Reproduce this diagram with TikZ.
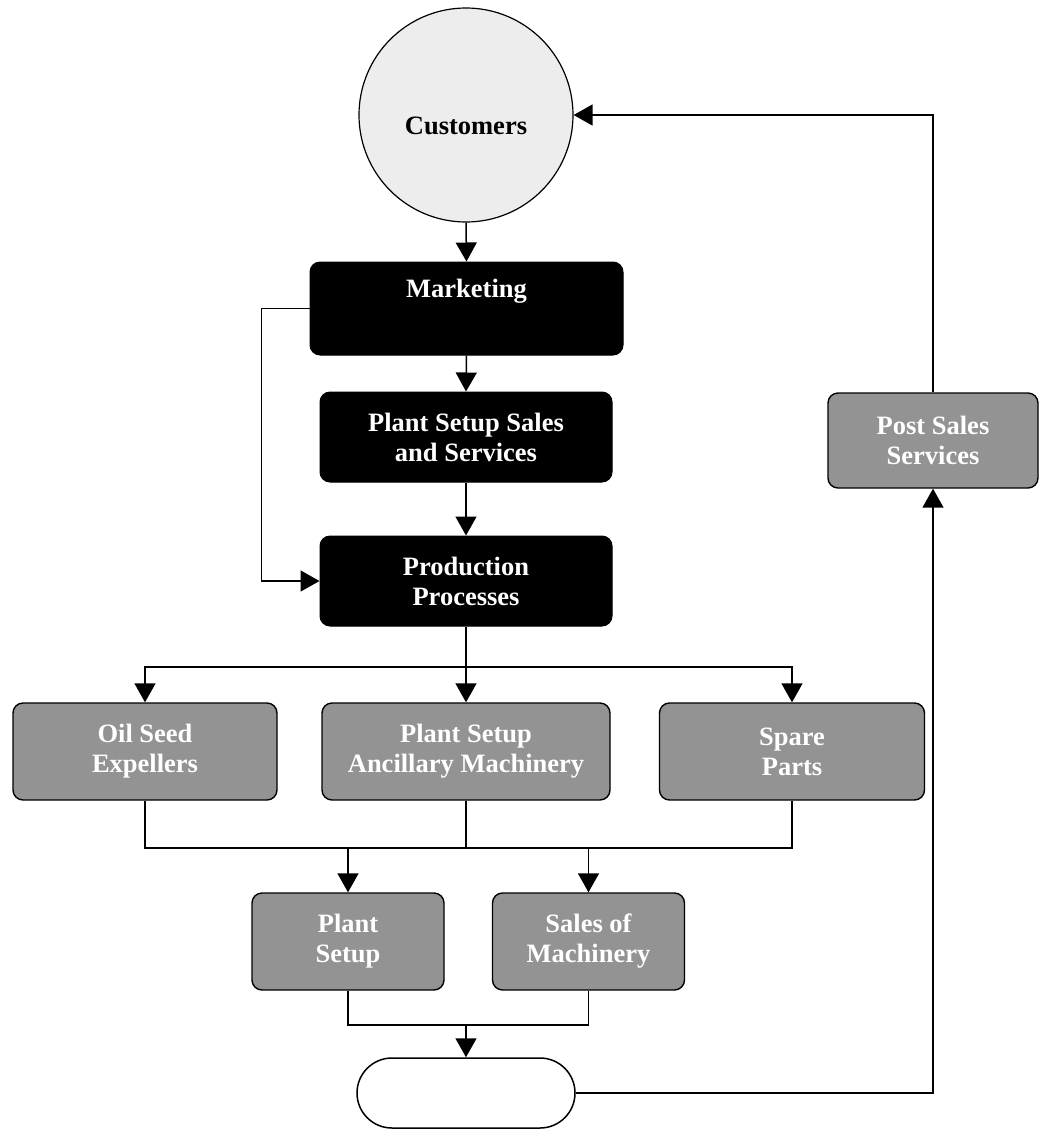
\documentclass[tikz,border=0pt]{standalone}
\usepackage{fontspec}
\setmainfont{Liberation Serif}
\usetikzlibrary{arrows.meta,calc}
\begin{document}
\begin{tikzpicture}[x=1pt,y=-1pt,
  every node/.style={font=\fontsize{26.5}{30}\selectfont\bfseries, align=center, inner sep=0pt},
  blackbox/.style={draw=black, fill=black, text=white, rounded corners=10pt, line width=1pt},
  greybox/.style={draw=black, fill=gray!85, text=white, rounded corners=10pt, line width=1.4pt},
  conn/.style={line width=1.5pt},
  arr/.style={conn, -{Triangle[width=21pt,length=19pt]}}
]
\useasboundingbox (0,0) rectangle (1040,1133);

\node[circle, draw=black, line width=1.2pt, fill=gray!14, minimum size=214pt,
      label={[yshift=-11pt]center:Customers}] (cust) at (466,115) {};
\node[blackbox, minimum width=313pt, minimum height=93pt,
      label={[yshift=17pt, text=white]center:Marketing}] (mkt) at (466.5,308.5) {};
\node[blackbox, minimum width=292pt, minimum height=90pt] (pss) at (466,437) {Plant Setup Sales\\and Services};
\node[blackbox, minimum width=292pt, minimum height=90pt] (prod) at (466,581) {Production\\Processes};

\node[greybox, minimum width=264pt, minimum height=97pt] (oil) at (145,751.5) {Oil Seed\\Expellers};
\node[greybox, minimum width=288pt, minimum height=97pt] (anc) at (466,751.5) {Plant Setup\\Ancillary Machinery};
\node[greybox, minimum width=265pt, minimum height=97pt] (spare) at (792,751.5) {Spare\\Parts};

\node[greybox, minimum width=192pt, minimum height=97pt] (ps) at (348,941.5) {Plant\\Setup};
\node[greybox, minimum width=192pt, minimum height=97pt] (som) at (588.5,941.5) {Sales of\\Machinery};

\node[draw=black, line width=1.5pt, rounded corners=35pt, minimum width=218pt, minimum height=70pt] (term) at (466,1093) {};

\node[greybox, minimum width=210pt, minimum height=95pt] (post) at (933,440.5) {Post Sales\\Services};

\coordinate (j1) at (466,667);
\coordinate (j2) at (466,848);
\coordinate (j3) at (466,1025);

\draw[arr] (cust.south) -- (mkt.north);
\draw[arr] (mkt.south) -- (pss.north);
\draw[arr] (pss.south) -- (prod.north);
\draw[arr] (mkt.west) -- ++(-48,0) |- (prod.west);

\draw[arr] (prod.south) -- (anc.north);
\draw[arr] (j1) -| (oil.north);
\draw[arr] (j1) -| (spare.north);

\draw[conn] (oil.south) |- (j2);
\draw[conn] (spare.south) |- (j2);
\draw[conn] (anc.south) -- (j2);
\draw[arr] (ps.north |- j2) -- (ps.north);
\draw[arr] (som.north |- j2) -- (som.north);

\draw[conn] (ps.south) |- (j3);
\draw[conn] (som.south) |- (j3);
\draw[arr] (j3) -- (term.north);

\draw[arr] (term.east) -| (post.south);
\draw[arr] (post.north) |- (cust.east);
\end{tikzpicture}
\end{document}
